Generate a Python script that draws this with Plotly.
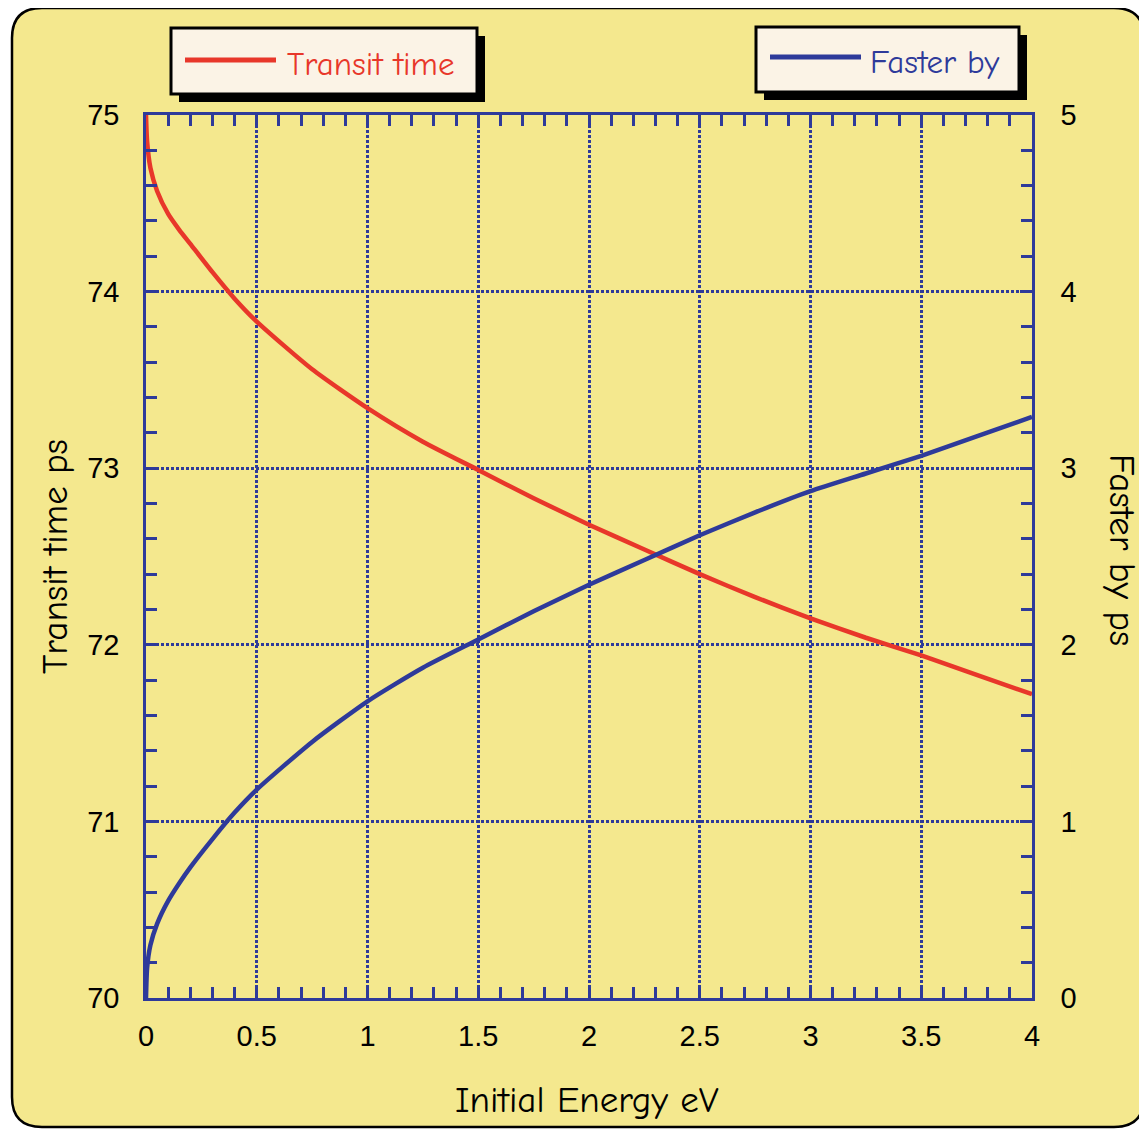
import plotly.graph_objects as go

# ---- data ----
energy = [0, 0.005, 0.02, 0.05, 0.1, 0.15, 0.2, 0.3, 0.4, 0.5, 0.75, 1.0, 1.25, 1.5,
          1.75, 2.0, 2.25, 2.5, 2.75, 3.0, 3.25, 3.5, 3.75, 4.0]
transit_time = [75.0, 74.85, 74.70, 74.57, 74.44, 74.35, 74.27, 74.11, 73.96, 73.83,
                73.56, 73.34, 73.15, 72.99, 72.83, 72.68, 72.54, 72.40, 72.27, 72.15,
                72.04, 71.94, 71.83, 71.72]
faster_by = [0.0, 0.17, 0.30, 0.42, 0.55, 0.65, 0.74, 0.90, 1.05, 1.18, 1.45, 1.68,
             1.87, 2.03, 2.19, 2.34, 2.48, 2.62, 2.75, 2.87, 2.97, 3.07, 3.18, 3.29]

RED = "#E8372A"
BLUE = "#2E3A9A"
YELLOW = "#F4E88E"
CREAM = "#FBF3E6"
COMIC = "Comic Sans MS, Comic Neue, Open Sans, sans-serif"
SANS = "Liberation Sans, Arial, sans-serif"

# page geometry (the html body adds an 8px margin)
OFF = 8
PAGE_W, PAGE_H = 1147, 1130
W, H = PAGE_W - OFF, PAGE_H - OFF
PL, PR, PT, PB = 146, 1032, 115, 998   # plot area in page pixels


def px2x(px):
    return (px - PL) / (PR - PL)


def py2y(py):
    return (PB - py) / (PB - PT)


fig = go.Figure()
fig.add_trace(go.Scatter(x=energy, y=transit_time, mode="lines", name="Transit time",
                         line=dict(color=RED, width=4.5, shape="spline", smoothing=0.6),
                         yaxis="y", showlegend=False))
fig.add_trace(go.Scatter(x=energy, y=faster_by, mode="lines", name="Faster by",
                         line=dict(color=BLUE, width=4.5, shape="spline", smoothing=0.6),
                         yaxis="y2", showlegend=False))

# ---- rounded background panel ----
L, T, R, B, r = 12, 8, 1144, 1127, 30
pts = [("M", [(L + r, T)]), ("L", [(R - r, T)]), ("Q", [(R, T), (R, T + r)]),
       ("L", [(R, B - r)]), ("Q", [(R, B), (R - r, B)]), ("L", [(L + r, B)]),
       ("Q", [(L, B), (L, B - r)]), ("L", [(L, T + r)]), ("Q", [(L, T), (L + r, T)])]
path = ""
for cmd, ps in pts:
    path += cmd + " " + " ".join(f"{px2x(a):.5f},{py2y(b):.5f}" for a, b in ps) + " "
path += "Z"

shapes = [dict(type="path", path=path, xref="paper", yref="paper", layer="below",
               fillcolor=YELLOW, line=dict(color="black", width=2.5))]


def legend_box(x0, y0, x1, y1, off=8):
    out = []
    out.append(dict(type="rect", xref="paper", yref="paper", layer="below",
                    x0=px2x(x0 + off), x1=px2x(x1 + off), y0=py2y(y0 + off), y1=py2y(y1 + off),
                    fillcolor="black", line=dict(width=0)))
    out.append(dict(type="rect", xref="paper", yref="paper", layer="below",
                    x0=px2x(x0), x1=px2x(x1), y0=py2y(y0), y1=py2y(y1),
                    fillcolor=CREAM, line=dict(color="black", width=3)))
    return out


shapes += legend_box(171, 28, 477, 94)
shapes += legend_box(756, 27, 1019, 92)
shapes.append(dict(type="line", xref="paper", yref="paper", x0=px2x(185), x1=px2x(276),
                   y0=py2y(60), y1=py2y(60), line=dict(color=RED, width=5)))
shapes.append(dict(type="line", xref="paper", yref="paper", x0=px2x(770), x1=px2x(861),
                   y0=py2y(57), y1=py2y(57), line=dict(color=BLUE, width=5)))

annotations = [
    dict(text="Transit time", x=px2x(285), y=py2y(64), xref="paper", yref="paper",
         xanchor="left", yanchor="middle", showarrow=False,
         font=dict(family=COMIC, size=33, color=RED)),
    dict(text="Faster by", x=px2x(868), y=py2y(62), xref="paper", yref="paper",
         xanchor="left", yanchor="middle", showarrow=False,
         font=dict(family=COMIC, size=33, color=BLUE)),
    dict(text="Transit time ps", x=px2x(55), y=py2y(557), xref="paper", yref="paper",
         xanchor="center", yanchor="middle", textangle=-90, showarrow=False,
         font=dict(family=COMIC, size=37, color="black")),
    dict(text="Faster by ps", x=px2x(1122), y=py2y(550), xref="paper", yref="paper",
         xanchor="center", yanchor="middle", textangle=90, showarrow=False,
         font=dict(family=COMIC, size=37, color="black")),
    dict(text="Initial Energy eV", x=px2x(587), y=py2y(1100), xref="paper", yref="paper",
         xanchor="center", yanchor="middle", showarrow=False,
         font=dict(family=COMIC, size=37, color="black")),
]

axis_common = dict(
    showline=True, linecolor=BLUE, linewidth=2.5,
    ticks="inside", ticklen=12, tickwidth=2.5, tickcolor=BLUE,
    showgrid=True, gridcolor=BLUE, gridwidth=2.5, griddash="3px,2px",
    zeroline=False,
    tickfont=dict(family=SANS, size=29, color="black"),
)

minor_common = dict(ticks="inside", ticklen=11, tickwidth=2.5, tickcolor=BLUE, showgrid=False)

fig.update_layout(
    width=W, height=H,
    margin=dict(l=PL - OFF, r=W - (PR - OFF), t=PT - OFF, b=H - (PB - OFF), autoexpand=False),
    paper_bgcolor="white",
    plot_bgcolor="rgba(0,0,0,0)",
    shapes=shapes,
    annotations=annotations,
    xaxis=dict(range=[0, 4], dtick=0.5, tick0=0, mirror="ticks", ticklabelstandoff=10,
               minor=dict(dtick=0.1, **minor_common), **axis_common),
    yaxis=dict(range=[70, 75], dtick=1, tick0=70, ticklabelstandoff=18,
               minor=dict(dtick=0.2, **minor_common), **axis_common),
    yaxis2=dict(range=[0, 5], dtick=1, tick0=0, overlaying="y", side="right",
                ticklabelstandoff=20, minor=dict(dtick=0.2, **minor_common),
                **{**axis_common, "showgrid": False}),
)

fig.write_html("out.html")
